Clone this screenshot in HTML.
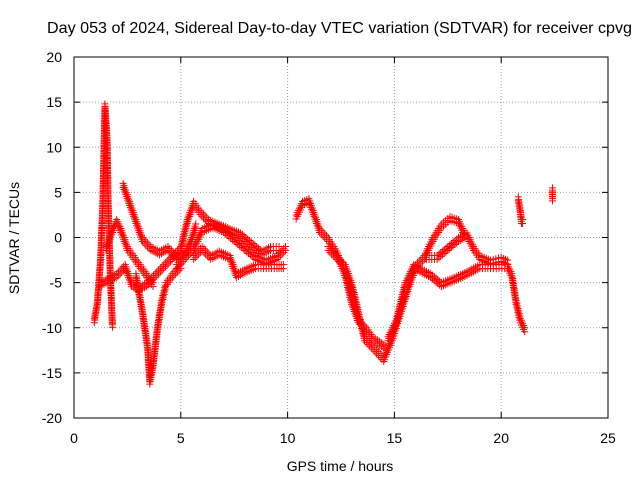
<!DOCTYPE html>
<html><head><meta charset="utf-8"><style>
body{margin:0;background:#fff}
svg text{font-family:"Liberation Sans",sans-serif;font-size:14px;fill:#000}
</style></head><body>
<svg id="c" width="640" height="480" xmlns="http://www.w3.org/2000/svg">
<text x="47" y="33" style="font-size:16px" textLength="585" lengthAdjust="spacingAndGlyphs">Day 053 of 2024, Sidereal Day-to-day VTEC variation (SDTVAR) for receiver cpvg</text>
<text x="340" y="471" text-anchor="middle">GPS time / hours</text>
<text transform="translate(19,238) rotate(-90)" text-anchor="middle">SDTVAR / TECUs</text>
<g id="grid"></g><g id="ticks"></g><g id="marks"></g>
<rect x="74" y="57" width="534" height="361" fill="none" stroke="#000"/>
</svg>
<script>
const xTicks=[0,5,10,15,20,25];
const yTicks=[-20,-15,-10,-5,0,5,10,15,20];
const s1=[[0.95,-9],[1.1,-7],[1.25,-2],[1.35,4],[1.45,14.8],[1.55,11],[1.6,4],[1.7,-4],[1.8,-9.5]];
const s2=[[1.5,-1],[1.8,1],[2.0,2],[2.2,1],[2.5,-1],[2.8,-2],[3.1,-3],[3.4,-4],[3.7,-5]];
const s3=[[2.9,-4],[3.2,-8],[3.45,-12],[3.55,-15.8],[3.7,-14],[3.9,-10],[4.1,-7],[4.3,-5],[4.6,-4],[5.0,-3]];
const s4=[[2.3,6],[2.6,4],[2.9,2],[3.2,0],[3.6,-1],[4.0,-1.5],[4.4,-1],[4.8,-2],[5.2,-1.5],[5.5,0],[5.7,1.5]];
const s5=[[1.2,-5],[1.6,-4.5],[2.0,-4],[2.4,-3],[2.7,-5],[3.0,-5.5],[3.4,-5],[3.8,-4],[4.2,-3],[4.6,-2],[5.0,-1],[5.3,2],[5.6,4],[5.9,3],[6.3,2],[6.8,1.5],[7.3,1],[7.8,0.5],[8.3,-0.5],[8.8,-1.5],[9.2,-1],[9.6,-1]];
const s6=[[4.8,-3],[5.2,-2],[5.6,-1],[6.0,1],[6.5,1.5],[7.0,1],[7.5,0],[8.0,-1],[8.5,-2],[9.0,-2.5],[9.5,-2],[9.9,-1]];
const s7=[[5.6,-2],[6.0,-1],[6.4,-2],[6.8,-1.5],[7.3,-2],[7.6,-4],[8.0,-3.5],[8.5,-3],[9.0,-3],[9.5,-3],[9.8,-3]];
const s8=[[10.4,2.5],[10.7,4],[11.0,4.3],[11.2,3],[11.5,1],[11.9,0],[12.3,-1.5],[12.7,-4],[13.0,-7],[13.3,-9],[13.7,-10],[14.0,-11],[14.3,-11.5],[14.6,-12]];
const s9=[[11.9,-1],[12.3,-2],[12.7,-3],[13.0,-5],[13.3,-8],[13.6,-11],[14.0,-12],[14.5,-13.3],[14.9,-11],[15.3,-8],[15.7,-5],[16.0,-3],[16.4,-2],[16.8,0],[17.2,1.5],[17.6,2.3],[18.0,2],[18.3,0.5]];
const s10=[[14.7,-11],[15.1,-9],[15.5,-5],[15.9,-3],[16.3,-3.5],[16.7,-4],[17.2,-5],[17.7,-4.5],[18.2,-4],[18.6,-3.5],[19.0,-3],[19.5,-3],[19.9,-3],[20.3,-3],[20.5,-4],[20.7,-7],[20.9,-9],[21.1,-10]];
const s11=[[16.5,-2],[17.0,-2],[17.5,-1],[18.0,0],[18.4,0.5],[18.7,-1],[19.0,-2],[19.5,-2.5],[20.0,-2.2],[20.3,-2.5]];
const s12=[[20.8,4.5],[20.9,3],[20.95,2],[21.0,2]];
const s13=[[22.4,5.5],[22.4,4.5]];
const series=[s1,s2,s3,s4,s5,s6,s7,s8,s9,s10,s11,s12,s13];
const NS='http://www.w3.org/2000/svg';
const X=v=>74+v*534/25, Y=v=>418-(v+20)*361/40;
function mk(t,a,p){const e=document.createElementNS(NS,t);for(const k in a)e.setAttribute(k,a[k]);p.appendChild(e);return e;}
const grid=document.getElementById('grid'),ticks=document.getElementById('ticks'),marks=document.getElementById('marks');
xTicks.forEach(v=>{const x=X(v);
 if(v>0&&v<25){const g=mk('line',{x1:x,x2:x,y1:57,y2:418,stroke:'#a0a0a0','stroke-dasharray':'1,2'},grid);
 
 }
 mk('line',{x1:x,x2:x,y1:418,y2:412,stroke:'#000'},ticks);mk('line',{x1:x,x2:x,y1:57,y2:63,stroke:'#000'},ticks);
 const t=mk('text',{x:x,y:443,'text-anchor':'middle'},ticks);t.textContent=v;
 
 });
yTicks.forEach(v=>{const y=Y(v);
 if(v>-20&&v<20){const g=mk('line',{x1:74,x2:608,y1:y,y2:y,stroke:'#a0a0a0','stroke-dasharray':'1,2'},grid);
 
 }
 mk('line',{x1:74,x2:80,y1:y,y2:y,stroke:'#000'},ticks);mk('line',{x1:608,x2:602,y1:y,y2:y,stroke:'#000'},ticks);
 const t=mk('text',{x:62,y:y+5,'text-anchor':'end'},ticks);t.textContent=v;
 
 });
function plus(x,y,g){mk('path',{d:`M${x-3.5} ${y}h7M${x} ${y-3.5}v7M${x-3.5} ${y+4}h7M${x} ${y+0.5}v7`,stroke:'#f00','stroke-width':1,fill:'none'},g);}
series.forEach((s,i)=>{const g=mk('g',{},marks);
 
 
 const pts=s.map(p=>[X(p[0]),Y(p[1])]);
 plus(pts[0][0],pts[0][1],g);
 for(let k=1;k<pts.length;k++){const [a,b]=pts[k-1],[c,d]=pts[k];const L=Math.hypot(c-a,d-b);const n=Math.max(1,Math.round(L/2.5));
  for(let j=1;j<=n;j++)plus(a+(c-a)*j/n,b+(d-b)*j/n,g);}
});
</script>
</body></html>
